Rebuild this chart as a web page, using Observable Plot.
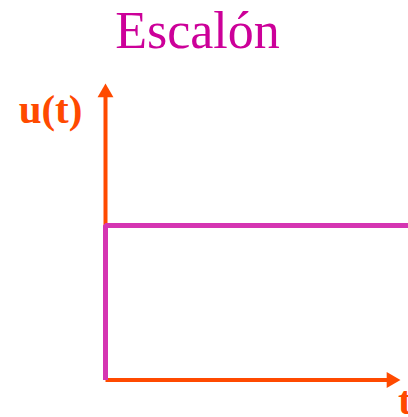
<!DOCTYPE html>
<html>
<head>
<meta charset="utf-8">
<script src="https://cdn.jsdelivr.net/npm/d3@7"></script>
<script src="https://cdn.jsdelivr.net/npm/@observablehq/plot@0.6"></script>
<style>
  html, body { margin: 0; padding: 0; background: #fff; }
  #chart svg { display: block; }
</style>
</head>
<body>
<div id="chart"></div>
<script>
// Data
const stepT = [0, 0, 10.3];
const stepU = [0, 1, 1];
const xAxisEnd = 10;     // t axis arrow tip
const yAxisEnd = 1.92;   // u axis arrow tip
const xShaftEnd = 9.6;   // where the t-axis shaft meets its arrowhead
const yShaftEnd = 1.85;  // where the u-axis shaft meets its arrowhead
const titleText = "Escalón";
const yLabel = "u(t)";
const xLabel = "t";

const step = stepT.map((t, i) => ({t, u: stepU[i]}));
const orange = "#ff4a00";
const magentaLine = "#d535b2";
const magentaTitle = "#cc0099";

const chart = Plot.plot({
  width: 408,
  height: 417,
  marginLeft: 105,
  marginRight: 8,
  marginTop: 70.5,
  marginBottom: 37.5,
  x: {domain: [0, 10], axis: null},
  y: {domain: [0, 2], axis: null},
  style: {background: "#fff", overflow: "hidden"},
  marks: [
    // axes
    Plot.link([{x1: 0, y1: 0, x2: 0, y2: yShaftEnd}], {x1: "x1", y1: "y1", x2: "x2", y2: "y2", stroke: orange, strokeWidth: 4}),
    Plot.link([{x1: 0, y1: 0, x2: xShaftEnd, y2: 0}], {x1: "x1", y1: "y1", x2: "x2", y2: "y2", stroke: orange, strokeWidth: 4}),
    Plot.dot([{x: 0, y: yAxisEnd}], {x: "x", y: "y", symbol: "triangle", r: 5.9, fill: orange, stroke: "none", dy: 9.2}),
    Plot.dot([{x: xAxisEnd, y: 0}], {x: "x", y: "y", symbol: "triangle", r: 5.9, fill: orange, stroke: "none", rotate: 90, dx: -9.2}),
    // step function
    Plot.line(step, {x: "t", y: "u", stroke: magentaLine, strokeWidth: 5, strokeLinejoin: "miter", strokeLinecap: "butt", curve: "linear"}),
    // texts
    Plot.text([titleText], {frameAnchor: "top-left", text: d => d, dx: 92, dy: -23.5, textAnchor: "middle", lineAnchor: "bottom", fontFamily: "Liberation Serif, Times New Roman, serif", fontSize: 52, fill: magentaTitle}),
    Plot.text([yLabel], {frameAnchor: "top-left", text: d => d, dx: -55, dy: 51.5, textAnchor: "middle", lineAnchor: "bottom", fontFamily: "Liberation Serif, Times New Roman, serif", fontWeight: "bold", fontSize: 41, fill: orange}),
    Plot.text([xLabel], {frameAnchor: "bottom-right", text: d => d, dx: -2.5, dy: 34, textAnchor: "start", lineAnchor: "bottom", fontFamily: "Liberation Serif, Times New Roman, serif", fontWeight: "bold", fontSize: 41, fill: orange})
  ]
});
document.getElementById("chart").appendChild(chart);
</script>
</body>
</html>
